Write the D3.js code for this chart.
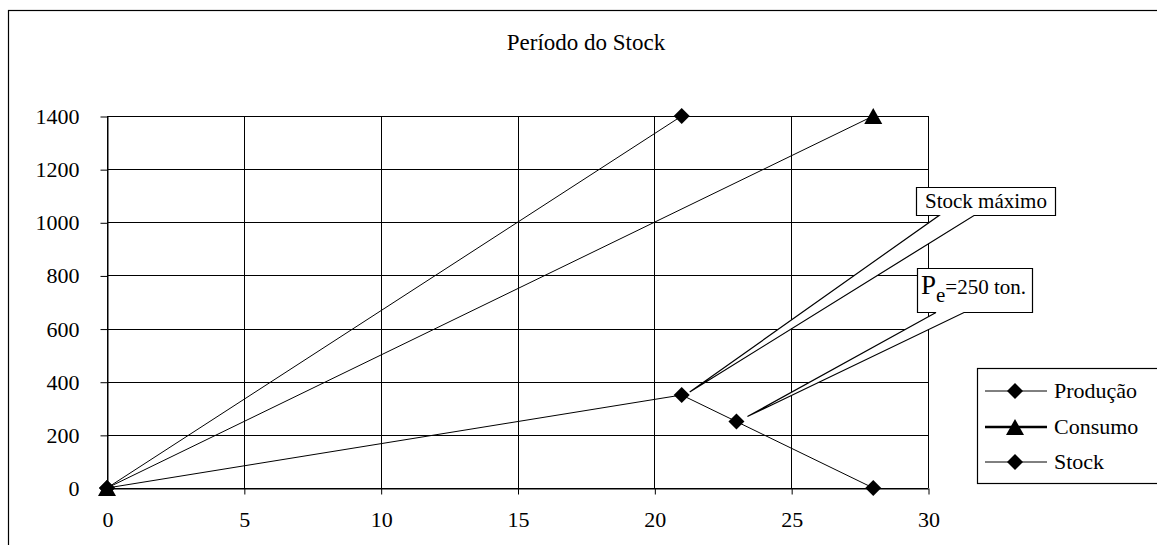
<!DOCTYPE html>
<html><head><meta charset="utf-8">
<script src="https://cdn.jsdelivr.net/npm/d3@7"></script>
<style>
html,body{margin:0;padding:0;background:#fff;}
</style></head>
<body><svg id="c" width="1157" height="545"></svg>
<script>
const title = "Período do Stock";
const xTicks = [0,5,10,15,20,25,30];
const yTicks = [0,200,400,600,800,1000,1200,1400];
const producaoX = [0,21];
const producaoY = [0,1400];
const consumoX = [0,28];
const consumoY = [0,1400];
const stockX = [0,21,23,28];
const stockY = [0,350,250,0];
const seriesNames = ["Produção","Consumo","Stock"];

const FONT = "Liberation Serif";

const svg = d3.select("#c");
svg.append("rect").attr("x",8.5).attr("y",10.5).attr("width",1200).attr("height",600)
  .attr("fill","#fff").attr("stroke","#000").attr("stroke-width",1.2);

const x = d3.scaleLinear().domain([0,30]).range([107,928]);
const y = d3.scaleLinear().domain([0,1400]).range([488,116]);

const g = svg.append("g");
g.selectAll(".hg").data(yTicks).join("line")
  .attr("x1",x(0)).attr("x2",x(30)).attr("y1",d=>Math.round(y(d))+0.5).attr("y2",d=>Math.round(y(d))+0.5)
  .attr("stroke","#000").attr("stroke-width",1);
g.selectAll(".vg").data(xTicks).join("line")
  .attr("y1",y(0)).attr("y2",y(1400)).attr("x1",d=>Math.round(x(d))+0.5).attr("x2",d=>Math.round(x(d))+0.5)
  .attr("stroke","#000").attr("stroke-width",1);

const fmt = d3.format("d");
const yAxis = d3.axisLeft(y).tickValues(yTicks).tickFormat(fmt).tickSize(7).tickSizeOuter(0).tickPadding(21);
const ya = svg.append("g").attr("transform",`translate(${Math.round(x(0))+0.5},0.5)`).call(yAxis);
const xAxis = d3.axisBottom(x).tickValues(xTicks).tickFormat(fmt).tickSize(6).tickSizeOuter(0).tickPadding(17);
const xa = svg.append("g").attr("transform",`translate(0.5,${Math.round(y(0))+0.5})`).call(xAxis);
[ya,xa].forEach(a=>{
  a.attr("font-family",FONT).attr("font-size",22);
  a.select(".domain").attr("stroke","#000");
  a.selectAll(".tick line").attr("stroke","#000");
  a.selectAll("text").attr("font-family",FONT).attr("font-size",22).attr("fill","#000");
});

svg.append("text").attr("x",586).attr("y",50).attr("text-anchor","middle")
  .attr("font-family",FONT).attr("font-size",23).text(title);

const line = d3.line().x(d=>x(d[0])).y(d=>y(d[1]));
const series = [
  {name:seriesNames[0], pts:d3.zip(producaoX,producaoY), marker:"diamond"},
  {name:seriesNames[1], pts:d3.zip(consumoX,consumoY), marker:"triangle"},
  {name:seriesNames[2], pts:d3.zip(stockX,stockY), marker:"diamond"}
];
const diamond = "M0,-8L8,0L0,8L-8,0Z";
const triangle = "M0,-8L9,8L-9,8Z";

series.forEach(s=>{
  svg.append("path").attr("d",line(s.pts)).attr("fill","none").attr("stroke","#000").attr("stroke-width",1);
});
series.forEach(s=>{
  svg.selectAll(null).data(s.pts).join("path")
    .attr("transform",d=>`translate(${x(d[0])},${y(d[1])})`)
    .attr("d",s.marker==="diamond"?diamond:triangle).attr("fill","#000");
});

function callout(bx,by,bw,bh,w1,w2,tip){
  const gg = svg.append("g");
  gg.append("path").attr("d",
    `M${bx},${by}H${bx+bw}V${by+bh}H${w2}L${tip[0]},${tip[1]}L${w1},${by+bh}H${bx}Z`)
    .attr("fill","#fff").attr("stroke","#000").attr("stroke-width",1.2);
  return gg;
}
const smX = x(stockX[1]), smY = y(stockY[1]);
const c1 = callout(916.5,187.5,139,28,939,974,[smX+8,smY-3]);
c1.append("text").attr("x",986).attr("y",208).attr("text-anchor","middle")
  .attr("font-family",FONT).attr("font-size",21).text("Stock máximo");
const peX = x(stockX[2]), peY = y(stockY[2]);
const c2 = callout(917.5,268.5,115,44,936,964,[peX+11,peY-5]);
const t2 = c2.append("text").attr("x",921).attr("y",294).attr("font-family",FONT);
t2.append("tspan").attr("font-size",27).text("P");
t2.append("tspan").attr("font-size",21).attr("dy",8).text("e");
t2.append("tspan").attr("font-size",21).attr("dy",-8).text("=250 ton.");

const lg = svg.append("g");
lg.append("rect").attr("x",977.5).attr("y",368.5).attr("width",300).attr("height",115)
  .attr("fill","#fff").attr("stroke","#000").attr("stroke-width",1.2);
const ly = [391,427,462];
series.forEach((s,i)=>{
  lg.append("line").attr("x1",985).attr("x2",1047).attr("y1",ly[i]).attr("y2",ly[i])
    .attr("stroke","#000").attr("stroke-width",i===1?2.5:1);
  lg.append("path").attr("transform",`translate(1015,${ly[i]})`)
    .attr("d",s.marker==="diamond"?diamond:triangle).attr("fill","#000");
  lg.append("text").attr("x",1054).attr("y",ly[i]+7)
    .attr("font-family",FONT).attr("font-size",22).text(s.name);
});
</script></body></html>
